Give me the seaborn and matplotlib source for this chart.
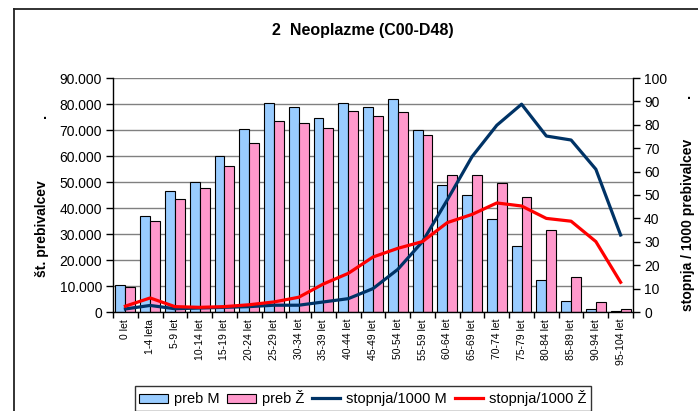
import numpy as np
import pandas as pd
import matplotlib
matplotlib.use("Agg")
import matplotlib.pyplot as plt
import seaborn as sns
from matplotlib.patches import Patch
from matplotlib.lines import Line2D

categories = ['0 let', '1-4 leta', '5-9 let', '10-14 let', '15-19 let', '20-24 let',
              '25-29 let', '30-34 let', '35-39 let', '40-44 let', '45-49 let', '50-54 let',
              '55-59 let', '60-64 let', '65-69 let', '70-74 let', '75-79 let', '80-84 let',
              '85-89 let', '90-94 let', '95-104 let']
preb_m = [10200, 37000, 46400, 50100, 59900, 70300, 80500, 78800, 74700, 80300, 78800,
          81800, 69900, 48800, 44900, 35800, 25500, 12300, 4100, 1000, 200]
preb_z = [9500, 34900, 43600, 47700, 56300, 64900, 73500, 72800, 70600, 77200, 75500,
          76800, 68200, 52600, 52600, 49700, 44100, 31700, 13600, 3700, 1000]
stopnja_m = [1.3, 2.8, 1.4, 1.7, 2.0, 2.3, 2.9, 2.9, 4.3, 5.7, 10.0, 18.2, 30.1, 47.9,
             66.4, 79.8, 88.8, 75.2, 73.5, 61.0, 32.9]
stopnja_z = [2.5, 6.0, 2.3, 2.0, 2.3, 3.1, 4.3, 6.3, 12.0, 16.5, 23.5, 27.2, 30.1, 38.2,
             41.7, 46.6, 45.3, 40.0, 38.8, 30.1, 12.7]
left_ticks = [0, 10000, 20000, 30000, 40000, 50000, 60000, 70000, 80000, 90000]
left_tick_labels = ['0', '10.000', '20.000', '30.000', '40.000', '50.000', '60.000',
                    '70.000', '80.000', '90.000']
right_ticks = [0, 10, 20, 30, 40, 50, 60, 70, 80, 90, 100]
series_labels = ['preb M', 'preb Ž', 'stopnja/1000 M', 'stopnja/1000 Ž']

c_m_bar = '#99CCFF'
c_z_bar = '#FF99CC'
c_m_line = '#003366'
c_z_line = '#FF0000'

plt.rcParams['font.family'] = ['Liberation Sans', 'DejaVu Sans']

W, H = 698, 411
fig = plt.figure(figsize=(W / 100, H / 100), dpi=100)
ax = fig.add_axes([113 / W, 1 - 312 / H, (633 - 113) / W, (312 - 78) / H])

df = pd.DataFrame({
    'cat': categories * 2,
    'val': preb_m + preb_z,
    'sex': [series_labels[0]] * len(categories) + [series_labels[1]] * len(categories),
})
sns.barplot(data=df, x='cat', y='val', hue='sex', order=categories,
            hue_order=series_labels[:2], palette=[c_m_bar, c_z_bar], saturation=1,
            edgecolor='black', linewidth=0.8, width=0.8, legend=False, ax=ax, zorder=2)

ax.set_xlim(-0.5, len(categories) - 0.5)
ax.set_ylim(0, 90000)
ax.set_yticks(left_ticks, left_tick_labels)
ax.yaxis.grid(True, color='#808080', linewidth=1.0)
ax.xaxis.grid(False)
ax.set_axisbelow(True)
ax.set_xlabel('')
ax.set_ylabel('')
ax.set_xticks(range(len(categories)), categories, rotation=90, fontsize=7.5)
ax.set_xticks(np.arange(-0.5, len(categories), 1), minor=True)
ax.tick_params(axis='x', which='major', length=0, pad=5)
ax.tick_params(axis='x', which='minor', length=4, width=1, direction='out', color='black')
ax.tick_params(axis='y', length=5, width=1, direction='out', labelsize=10, pad=3, color='black')
for s in ['top', 'right']:
    ax.spines[s].set_visible(False)
for s in ['left', 'bottom']:
    ax.spines[s].set_color('black')
    ax.spines[s].set_linewidth(1.0)

ax2 = ax.twinx()
xpos = np.arange(len(categories))
sns.lineplot(x=xpos, y=stopnja_m, ax=ax2, color=c_m_line, linewidth=2.3, sort=False)
sns.lineplot(x=xpos, y=stopnja_z, ax=ax2, color=c_z_line, linewidth=2.3, sort=False)
ax2.set_ylim(0, 100)
ax2.set_yticks(right_ticks, [str(t) for t in right_ticks])
ax2.tick_params(axis='y', length=5, width=1, direction='out', labelsize=10, pad=3, color='black')
ax2.set_ylabel('')
for s in ['top', 'left', 'bottom']:
    ax2.spines[s].set_visible(False)
ax2.spines['right'].set_color('black')
ax2.spines['right'].set_linewidth(1.0)
ax2.set_xlim(-0.5, len(categories) - 0.5)

# texts
fig.text(363 / W, 1 - 30 / H, '2  Neoplazme (C00-D48)', ha='center', va='center',
         fontsize=11.5, fontweight='bold')
fig.text(42 / W, 1 - 229 / H, 'št. prebivalcev', rotation=90, ha='center', va='center',
         fontsize=10, fontweight='bold')
fig.text(45 / W, 1 - 115 / H, '.', ha='center', va='center', fontsize=10, fontweight='bold')
fig.text(688 / W, 1 - 225 / H, 'stopnja / 1000 prebivalcev', rotation=90, ha='center',
         va='center', fontsize=10, fontweight='bold')
fig.text(689 / W, 1 - 95 / H, '.', ha='center', va='center', fontsize=10, fontweight='bold')

# border
fig.add_artist(Line2D([14 / W, 14 / W], [0, 1 - 9 / H], color='#222222', lw=1.3,
                      transform=fig.transFigure))
fig.add_artist(Line2D([14 / W, 1], [1 - 9 / H, 1 - 9 / H], color='#222222', lw=1.3,
                      transform=fig.transFigure))

handles = [Patch(facecolor=c_m_bar, edgecolor='black', linewidth=0.8),
           Patch(facecolor=c_z_bar, edgecolor='black', linewidth=0.8),
           Line2D([], [], color=c_m_line, lw=2.3),
           Line2D([], [], color=c_z_line, lw=2.3)]
leg = fig.legend(handles, series_labels, loc='upper left',
                 bbox_to_anchor=(135 / W, 1 - 386 / H), ncol=4, frameon=True,
                 fancybox=False, edgecolor='black', fontsize=10.5, handlelength=1.95,
                 handleheight=0.6, columnspacing=0.55, handletextpad=0.4,
                 borderaxespad=0, borderpad=0.3)
leg.get_frame().set_linewidth(1.0)

fig.savefig('out.png', dpi=100)
